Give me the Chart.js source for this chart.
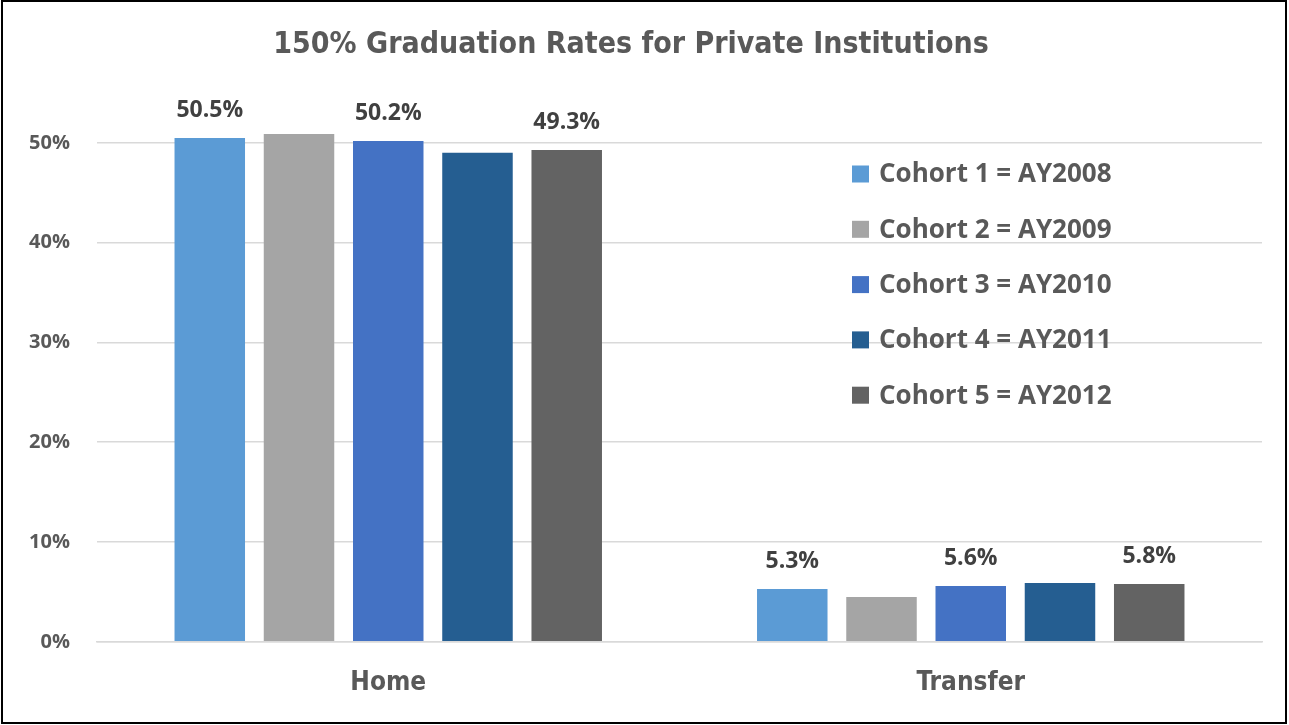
<!DOCTYPE html>
<html>
<head>
<meta charset="utf-8">
<script src="https://cdn.jsdelivr.net/npm/chart.js@4"></script>
<style>
  html, body { margin: 0; padding: 0; background: #fff; }
  #wrap { position: relative; width: 1289px; height: 725px; }
  canvas { display: block; }
</style>
</head>
<body>
<div id="wrap"><canvas id="c" width="1289" height="725"></canvas></div>
<script>
const chartTitle = '150% Graduation Rates for Private Institutions';
const categories = ['Home', 'Transfer'];
const seriesLabels = ['Cohort 1 = AY2008', 'Cohort 2 = AY2009', 'Cohort 3 = AY2010', 'Cohort 4 = AY2011', 'Cohort 5 = AY2012'];
const cohort1 = [50.5, 5.3];
const cohort2 = [50.9, 4.5];
const cohort3 = [50.2, 5.6];
const cohort4 = [49.0, 5.9];
const cohort5 = [49.3, 5.8];
const yTickValues = [0, 10, 20, 30, 40, 50];
const labeledSeries = [0, 2, 4];
const seriesColors = ['#5B9BD5', '#A5A5A5', '#4472C4', '#255E91', '#636363'];

const allSeries = [cohort1, cohort2, cohort3, cohort4, cohort5];

const bgBorderPlugin = {
  id: 'bgBorder',
  beforeDraw(chart) {
    const ctx = chart.ctx;
    ctx.save();
    ctx.fillStyle = '#ffffff';
    ctx.fillRect(0, 0, chart.width, chart.height);
    ctx.restore();
  },
  afterDraw(chart) {
    const ctx = chart.ctx;
    ctx.save();
    ctx.strokeStyle = '#000000';
    ctx.lineWidth = 2;
    ctx.strokeRect(2, 1, chart.width - 5, chart.height - 3);
    ctx.restore();
  }
};

const valueLabelPlugin = {
  id: 'valueLabels',
  afterDatasetsDraw(chart) {
    const ctx = chart.ctx;
    ctx.save();
    ctx.font = 'bold 23px "Open Sans", sans-serif';
    ctx.fillStyle = '#404040';
    ctx.textAlign = 'center';
    ctx.textBaseline = 'middle';
    labeledSeries.forEach(di => {
      const meta = chart.getDatasetMeta(di);
      meta.data.forEach((el, i) => {
        const v = chart.data.datasets[di].data[i];
        ctx.fillText(v.toFixed(1) + '%', el.x, el.y - 27);
      });
    });
    ctx.restore();
  }
};

const innerLegendPlugin = {
  id: 'innerLegend',
  afterDatasetsDraw(chart) {
    const ctx = chart.ctx;
    const x0 = 852, y0 = 174, pitch = 55.3, box = 17;
    ctx.save();
    ctx.font = 'bold 26px "Open Sans", sans-serif';
    ctx.textAlign = 'left';
    ctx.textBaseline = 'middle';
    chart.data.datasets.forEach((ds, i) => {
      const y = y0 + i * pitch;
      ctx.fillStyle = ds.backgroundColor;
      ctx.fillRect(x0, y - box / 2, box, box);
      ctx.fillStyle = '#595959';
      ctx.fillText(ds.label, x0 + 27, y + 1);
    });
    ctx.restore();
  }
};

new Chart(document.getElementById('c'), {
  type: 'bar',
  data: {
    labels: categories,
    datasets: allSeries.map((d, i) => ({
      label: seriesLabels[i],
      data: d,
      backgroundColor: seriesColors[i],
      borderWidth: 0,
      barPercentage: 0.79,
      categoryPercentage: 0.766
    }))
  },
  options: {
    responsive: false,
    animation: false,
    layout: { padding: { left: 0, right: 27, top: 0, bottom: 0 } },
    plugins: {
      legend: { display: false },
      tooltip: { enabled: false },
      title: {
        display: true,
        text: chartTitle,
        color: '#595959',
        font: { family: '"Liberation Sans Narrow", "DejaVu Sans Condensed", sans-serif', size: 30, weight: 'bold' },
        padding: { top: 27, bottom: 30 }
      }
    },
    scales: {
      x: {
        grid: { display: false, drawTicks: false },
        border: { display: true, color: '#D9D9D9', width: 1.5 },
        ticks: {
          color: '#595959',
          padding: 26,
          font: { family: '"Liberation Sans Narrow", "DejaVu Sans Condensed", sans-serif', size: 26, weight: 'bold' }
        }
      },
      y: {
        min: 0,
        max: 55,
        afterBuildTicks(scale) {
          scale.ticks = yTickValues.map(v => ({ value: v }));
        },
        afterFit(scale) { scale.width = 97; },
        grid: { color: '#D9D9D9', lineWidth: 1.5, drawTicks: false },
        border: { display: false },
        ticks: {
          color: '#595959',
          padding: 27,
          font: { family: '"Open Sans", sans-serif', size: 20, weight: 'bold' },
          callback: v => v + '%'
        }
      }
    }
  },
  plugins: [bgBorderPlugin, valueLabelPlugin, innerLegendPlugin]
});
</script>
</body>
</html>
